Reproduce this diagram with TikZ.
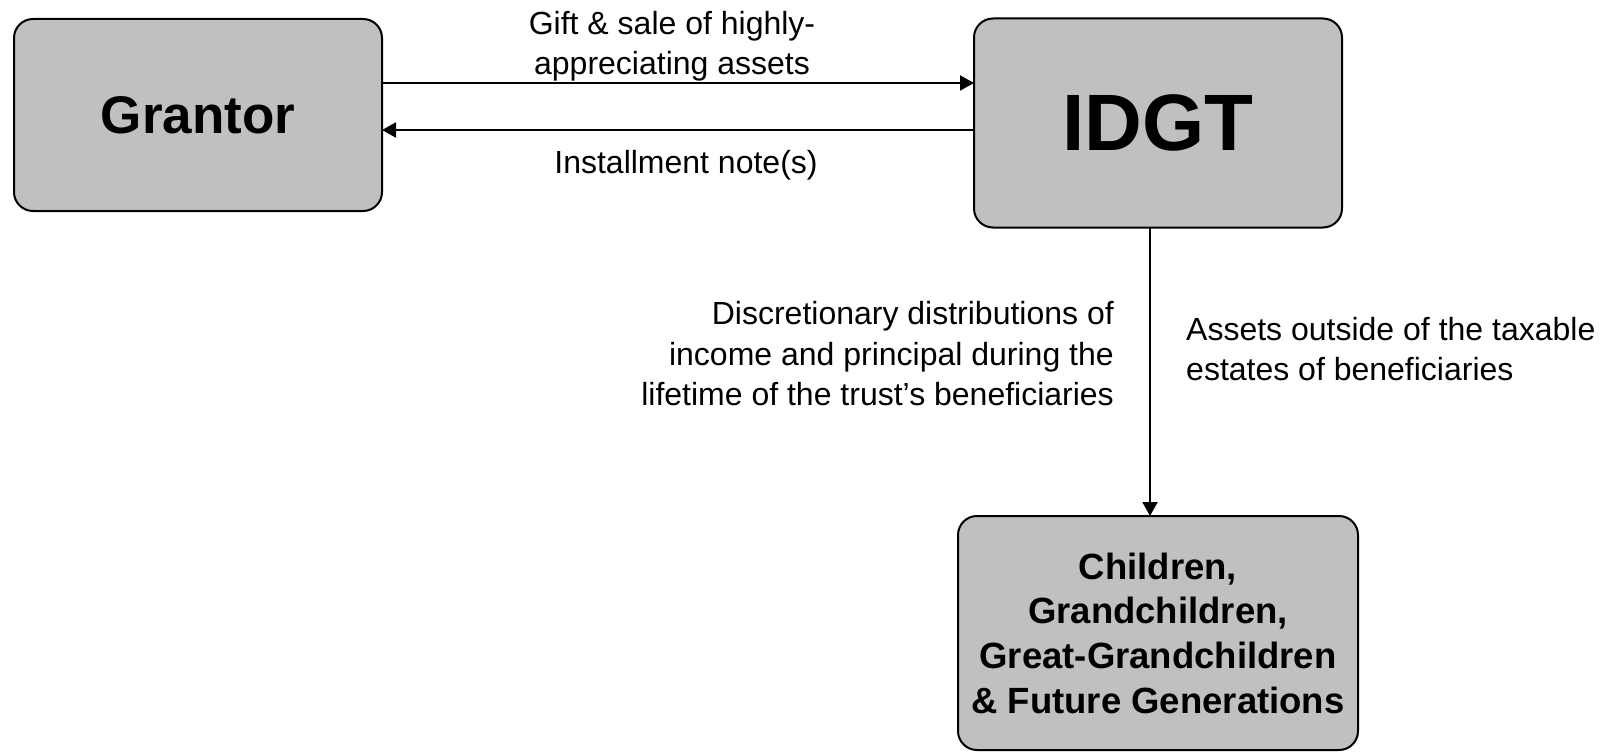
\documentclass[tikz,border=0pt]{standalone}
\usepackage{fontspec}
\setmainfont{Liberation Sans}
\usetikzlibrary{arrows.meta}
\begin{document}
\begin{tikzpicture}[x=1pt,y=-1pt,
  box/.style={draw=black, line width=2pt, fill=boxgray, rounded corners=19pt,
    inner sep=0pt, outer sep=0pt, align=center},
  conn/.style={draw=black, line width=2pt, -{Triangle[length=14pt,width=15pt]}},
  lbl/.style={inner sep=0pt, font=\fontsize{32}{40.5}\selectfont}]
\definecolor{boxgray}{RGB}{192,192,192}
\useasboundingbox (0,0) rectangle (1606,752);
\node[box, minimum width=368pt, minimum height=192pt,
  font=\fontsize{53}{60}\selectfont\bfseries] (g) at (198,115) {Grantor};
\node[box, minimum width=368pt, minimum height=209pt,
  font=\fontsize{80}{90}\selectfont\bfseries] (i) at (1158,123) {IDGT};
\node[box, minimum width=400pt, minimum height=234pt,
  font=\fontsize{36.5}{44.7}\selectfont\bfseries] (c) at (1158,633)
  {Children,\\Grandchildren,\\Great-Grandchildren\\\& Future Generations};
\coordinate (y1) at (0,83);
\coordinate (y2) at (0,130);
\coordinate (xd) at (1150,0);
\draw[conn] (g.east |- y1) -- (i.west |- y1);
\draw[conn] (i.west |- y2) -- (g.east |- y2);
\draw[conn] (xd |- i.south) -- (xd |- c.north);
\node[lbl, align=center] (l1) at (672,46) {Gift \& sale of highly-\\appreciating assets};
\node[lbl] (l2) at (686,165) {Installment note(s)};
\node[lbl, align=right, anchor=east] (l3) at (1114,354)
  {Discretionary distributions of\\income and principal during the\\lifetime of the trust’s beneficiaries};
\node[lbl, align=left, anchor=west] (l4) at (1186,349)
  {Assets outside of the taxable\\estates of beneficiaries};
\end{tikzpicture}
\end{document}
